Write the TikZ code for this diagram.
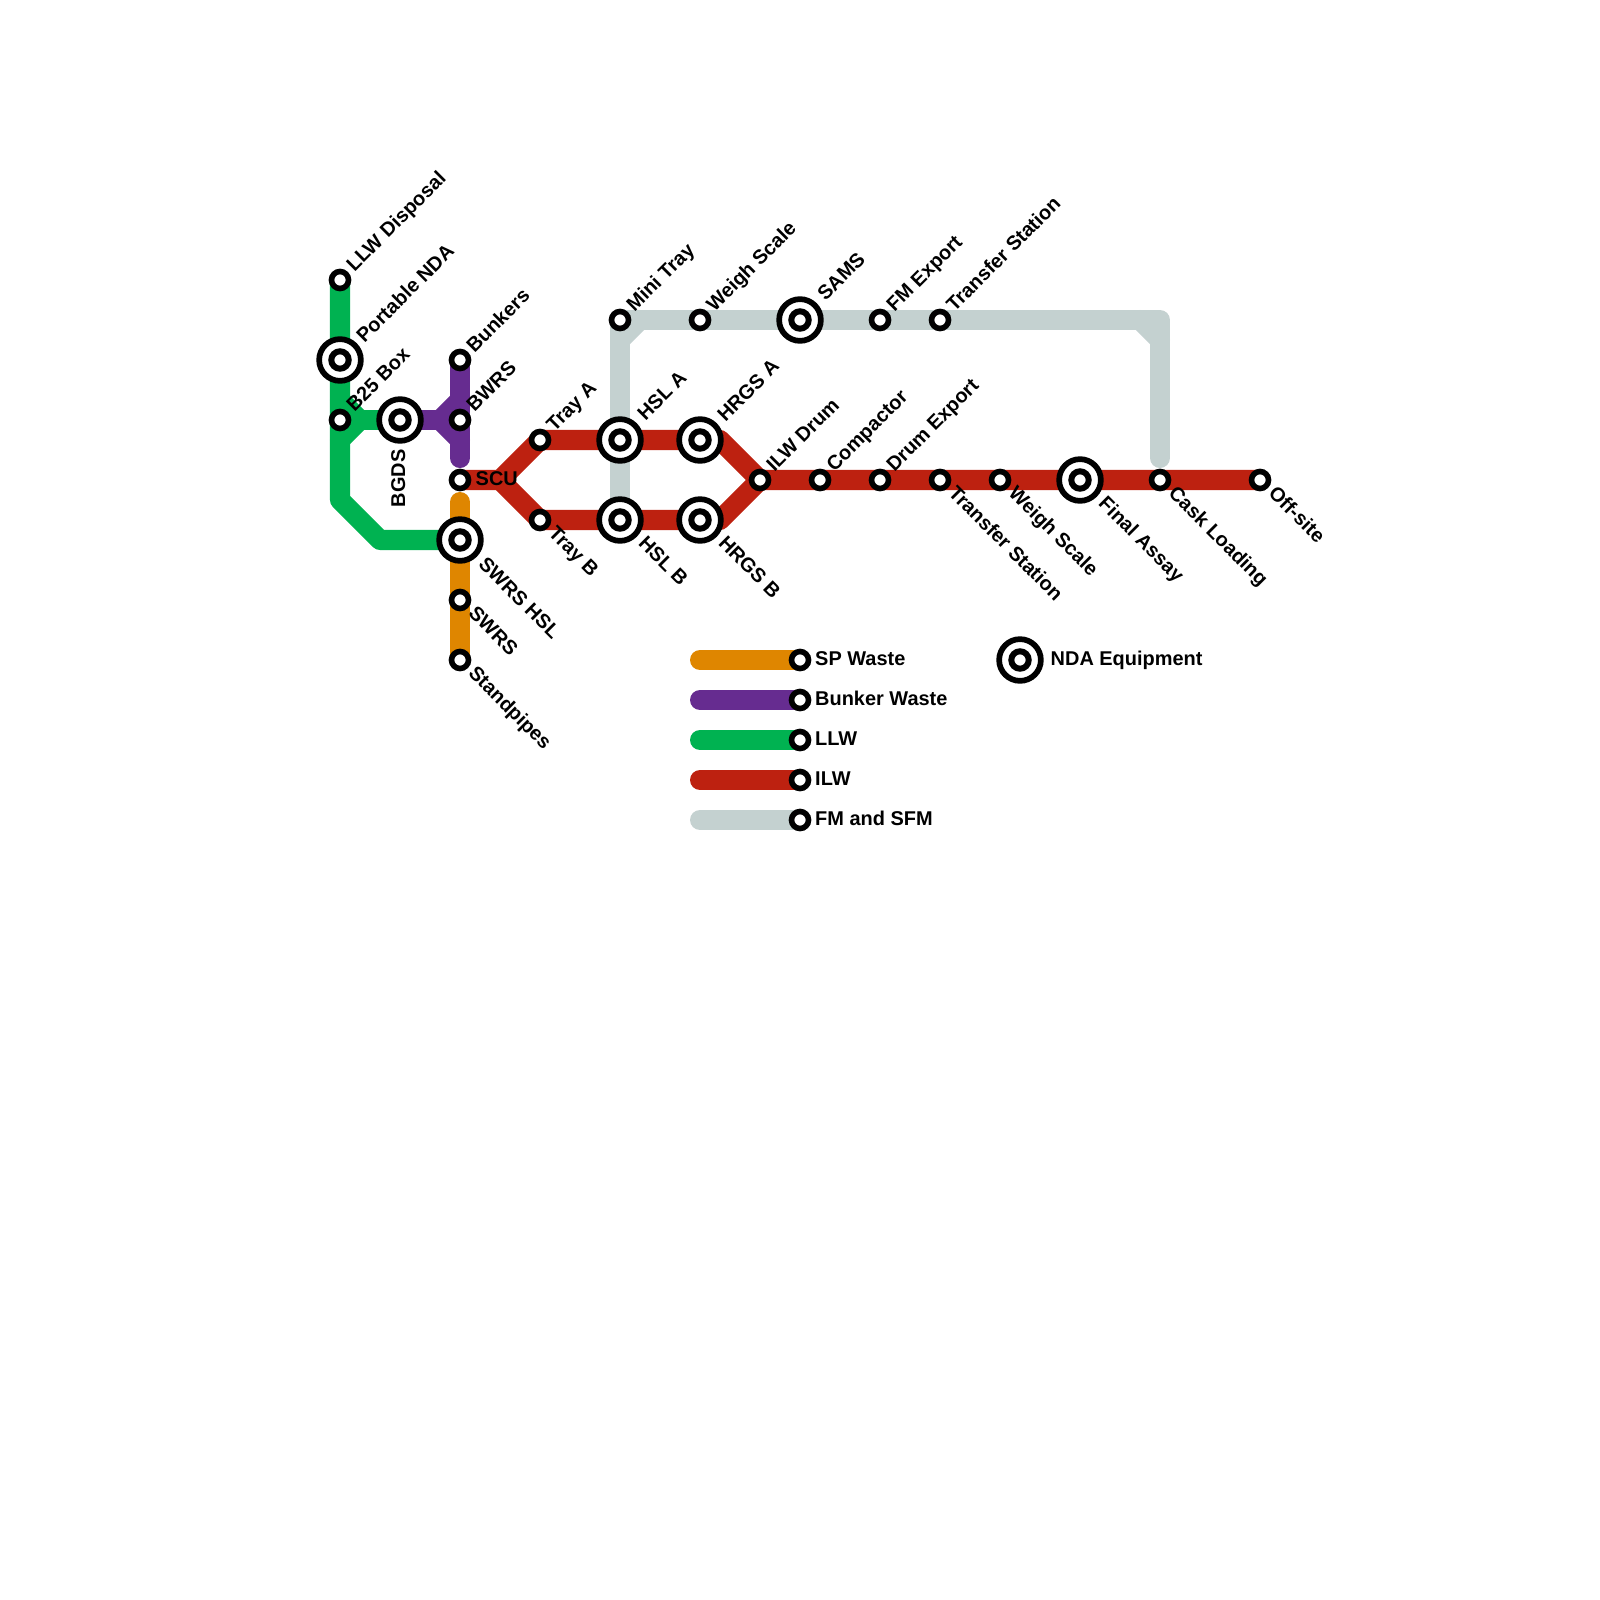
\documentclass[tikz,border=0pt]{standalone}
\usepackage{fontspec}
\setmainfont{Liberation Sans}
\usetikzlibrary{backgrounds}
\definecolor{spwaste}{HTML}{DF8600}
\definecolor{bunkerwaste}{HTML}{662C90}
\definecolor{llwline}{HTML}{00B251}
\definecolor{ilwline}{HTML}{BD2110}
\definecolor{fmline}{HTML}{C4D1D0}
\tikzset{
    smallstn/.style={circle,draw=black,fill=white,line width=0.056cm,minimum size=0.17cm,inner sep=0pt,outer sep=0pt},
    bigstn/.style={circle,draw=black,fill=white,line width=0.057cm,minimum size=0.417cm,inner sep=0pt,outer sep=0pt,
        path picture={\draw[line width=0.06cm] (path picture bounding box.center) circle (0.087cm);}},
    wasteline/.style={line width=0.2cm,line join=round,line cap=round},
    lbl/.style={inner sep=0pt,anchor=base west,font=\fontsize{5.67}{6.8}\selectfont\bfseries},
    lblup/.style={lbl,rotate=45},
    lbldown/.style={lbl,rotate=-45}
}
\begin{document}
\begin{tikzpicture}[x=0.01cm,y=-0.01cm]
    \useasboundingbox (0,0) rectangle (1600,1600);
    % Stations
    \node[smallstn] (llwdisp) at (340,280) {};
    \node[bigstn] (portnda) at (340,360) {};
    \node[smallstn] (b25box) at (340,420) {};
    \node[bigstn] (bgds) at (400,420) {};
    \node[smallstn] (bunkers) at (460,360) {};
    \node[smallstn] (bwrs) at (460,420) {};
    \node[smallstn] (scu) at (460,480) {};
    \node[bigstn] (swrshsl) at (460,540) {};
    \node[smallstn] (swrs) at (460,600) {};
    \node[smallstn] (standpipes) at (460,660) {};
    \node[smallstn] (traya) at (540,440) {};
    \node[smallstn] (trayb) at (540,520) {};
    \node[bigstn] (hsla) at (620,440) {};
    \node[bigstn] (hslb) at (620,520) {};
    \node[bigstn] (hrgsa) at (700,440) {};
    \node[bigstn] (hrgsb) at (700,520) {};
    \node[smallstn] (minitray) at (620,320) {};
    \node[smallstn] (weightop) at (700,320) {};
    \node[bigstn] (sams) at (800,320) {};
    \node[smallstn] (fmexport) at (880,320) {};
    \node[smallstn] (transtop) at (940,320) {};
    \node[smallstn] (ilwdrum) at (760,480) {};
    \node[smallstn] (compactor) at (820,480) {};
    \node[smallstn] (drumexport) at (880,480) {};
    \node[smallstn] (transbot) at (940,480) {};
    \node[smallstn] (weighbot) at (1000,480) {};
    \node[bigstn] (finalassay) at (1080,480) {};
    \node[smallstn] (cask) at (1160,480) {};
    \node[smallstn] (offsite) at (1260,480) {};
    % Bends and free ends
    \coordinate (greensplitup) at (340,400);
    \coordinate (greenjoin) at (360,420);
    \coordinate (greensplitdown) at (340,440);
    \coordinate (greenbendA) at (340,500);
    \coordinate (greenbendB) at (380,540);
    \coordinate (purplejoin) at (440,420);
    \coordinate (purpleup) at (460,400);
    \coordinate (purpledown) at (460,440);
    \coordinate (purpleend) at (460,458);
    \coordinate (orangeend) at (460,502);
    \coordinate (redsplit) at (500,480);
    \coordinate (redbendA) at (720,440);
    \coordinate (redbendB) at (720,520);
    \coordinate (greyleftA) at (640,320);
    \coordinate (greyleftB) at (620,340);
    \coordinate (greycorner) at (1160,320);
    \coordinate (greyrightA) at (1140,320);
    \coordinate (greyrightB) at (1160,340);
    \coordinate (greyend) at (1160,458);
    \begin{pgfonlayer}{background}
        \draw[wasteline,fmline] (minitray.center) -- (greycorner) -- (greyend);
        \draw[wasteline,fmline] (greyrightA) -- (greyrightB);
        \draw[wasteline,fmline] (greyleftA) -- (greyleftB);
        \draw[wasteline,fmline] (minitray.center) -- (hslb.center);
        \draw[wasteline,llwline] (llwdisp.center) -- (greenbendA) -- (greenbendB) -- (swrshsl.center);
        \draw[wasteline,llwline] (b25box.center) -- (bgds.center);
        \draw[wasteline,llwline] (greensplitup) -- (greenjoin) -- (greensplitdown);
        \draw[wasteline,bunkerwaste] (bgds.center) -- (bwrs.center);
        \draw[wasteline,bunkerwaste] (bunkers.center) -- (purpleend);
        \draw[wasteline,bunkerwaste] (purpleup) -- (purplejoin) -- (purpledown);
        \draw[wasteline,spwaste] (orangeend) -- (standpipes.center);
        \draw[wasteline,ilwline] (scu.center) -- (redsplit) -- (traya.center) -- (redbendA) -- (ilwdrum.center) -- (offsite.center);
        \draw[wasteline,ilwline] (redsplit) -- (trayb.center) -- (redbendB) -- (ilwdrum.center);
    \end{pgfonlayer}
    % Station labels
    \node[lblup] (llwdisplbl) at ([shift={(14,-7)}]llwdisp.center) {LLW Disposal};
    \node[lblup] (portndalbl) at ([shift={(24,-16)}]portnda.center) {Portable NDA};
    \node[lblup] (b25boxlbl) at ([shift={(14,-7)}]b25box.center) {B25 Box};
    \node[lbl,rotate=90] (bgdslbl) at ([shift={(5,88)}]bgds.center) {BGDS};
    \node[lblup] (bunkerslbl) at ([shift={(14,-6)}]bunkers.center) {Bunkers};
    \node[lblup] (bwrslbl) at ([shift={(14,-7)}]bwrs.center) {BWRS};
    \node[lbl] (sculbl) at ([shift={(15,5)}]scu.center) {SCU};
    \node[lbldown] (swrshsllbl) at ([shift={(17,25)}]swrshsl.center) {SWRS HSL};
    \node[lbldown] (swrslbl) at ([shift={(7,14)}]swrs.center) {SWRS};
    \node[lbldown] (standpipeslbl) at ([shift={(7,14)}]standpipes.center) {Standpipes};
    \node[lblup] (trayalbl) at ([shift={(14,-7)}]traya.center) {Tray A};
    \node[lbldown] (traybEl) at ([shift={(7,14)}]trayb.center) {Tray B};
    \node[lblup] (hslalbl) at ([shift={(25,-18)}]hsla.center) {HSL A};
    \node[lbldown] (hslblbl) at ([shift={(17,24)}]hslb.center) {HSL B};
    \node[lblup] (hrgsalbl) at ([shift={(25,-17)}]hrgsa.center) {HRGS A};
    \node[lbldown] (hrgsblbl) at ([shift={(17,24)}]hrgsb.center) {HRGS B};
    \node[lblup] (minitraylbl) at ([shift={(14,-7)}]minitray.center) {Mini Tray};
    \node[lblup] (weightoplbl) at ([shift={(14,-7)}]weightop.center) {Weigh Scale};
    \node[lblup] (samslbl) at ([shift={(25,-18)}]sams.center) {SAMS};
    \node[lblup] (fmexportlbl) at ([shift={(14,-7)}]fmexport.center) {FM Export};
    \node[lblup] (transtoplbl) at ([shift={(14,-7)}]transtop.center) {Transfer Station};
    \node[lblup] (ilwdrumlbl) at ([shift={(14,-7)}]ilwdrum.center) {ILW Drum};
    \node[lblup] (compactorlbl) at ([shift={(14,-7)}]compactor.center) {Compactor};
    \node[lblup] (drumexportlbl) at ([shift={(14,-7)}]drumexport.center) {Drum Export};
    \node[lbldown] (transbotlbl) at ([shift={(7,14)}]transbot.center) {Transfer Station};
    \node[lbldown] (weighbotlbl) at ([shift={(7,14)}]weighbot.center) {Weigh Scale};
    \node[lbldown] (finalassaylbl) at ([shift={(17,24)}]finalassay.center) {Final Assay};
    \node[lbldown] (casklbl) at ([shift={(7,14)}]cask.center) {Cask Loading};
    \node[lbldown] (offsitelbl) at ([shift={(7,14)}]offsite.center) {Off-site};
    % Legend
    \coordinate (keystartA) at (700,660);
    \coordinate (keystartB) at (700,700);
    \coordinate (keystartC) at (700,740);
    \coordinate (keystartD) at (700,780);
    \coordinate (keystartE) at (700,820);
    \node[smallstn] (keyA) at (800,660) {};
    \node[smallstn] (keyB) at (800,700) {};
    \node[smallstn] (keyC) at (800,740) {};
    \node[smallstn] (keyD) at (800,780) {};
    \node[smallstn] (keyE) at (800,820) {};
    \node[bigstn] (keyF) at (1020,660) {};
    \begin{pgfonlayer}{background}
        \draw[wasteline,spwaste] (keystartA) -- (keyA.center);
        \draw[wasteline,bunkerwaste] (keystartB) -- (keyB.center);
        \draw[wasteline,llwline] (keystartC) -- (keyC.center);
        \draw[wasteline,ilwline] (keystartD) -- (keyD.center);
        \draw[wasteline,fmline] (keystartE) -- (keyE.center);
    \end{pgfonlayer}
    \node[lbl] (keyAlbl) at ([shift={(14.5,5)}]keyA.center) {SP Waste};
    \node[lbl] (keyBlbl) at ([shift={(14.5,5)}]keyB.center) {Bunker Waste};
    \node[lbl] (keyClbl) at ([shift={(14.5,5)}]keyC.center) {LLW};
    \node[lbl] (keyDlbl) at ([shift={(14.5,5)}]keyD.center) {ILW};
    \node[lbl] (keyElbl) at ([shift={(14.5,5)}]keyE.center) {FM and SFM};
    \node[lbl] (keyFlbl) at ([shift={(30,5)}]keyF.center) {NDA Equipment};
\end{tikzpicture}
\end{document}
